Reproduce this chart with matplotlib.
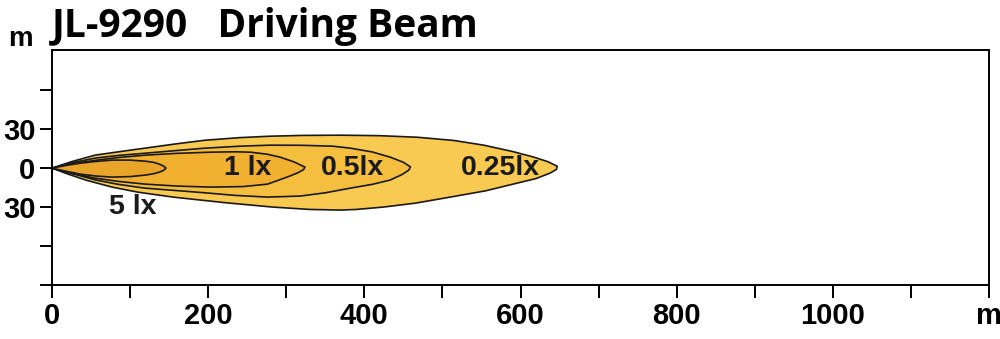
import numpy as np
import matplotlib.pyplot as plt

# odleglosc [m] i szerokosc [m]
x_025_gora = [0, 25, 55, 90, 119, 160, 196, 240, 279, 320, 369, 420, 468, 515, 553, 590, 617, 635, 647]
y_025_gora = [0, 5, 10, 13, 15.4, 18.8, 21.5, 23.5, 24.6, 25.2, 25.4, 25, 23.8, 21.3, 17.7, 12.8, 8.5, 5, 1.5]
x_025_dol = [646, 638, 620, 596, 555, 510, 465, 424, 390, 369, 330, 283, 220, 155, 110, 77, 45, 20]
y_025_dol = [-1, -3.8, -8, -11.5, -17.5, -22.3, -27, -30, -31.8, -32.3, -31.8, -30, -26.5, -22.3, -18.5, -14.6, -9.5, -4.5]

x_05_gora = [0, 25, 55, 85, 119, 160, 196, 240, 279, 320, 360, 382, 410, 433, 450, 459]
y_05_gora = [0, 4, 7.7, 9.8, 11.5, 13.6, 15.4, 16.9, 17.7, 17.6, 16.9, 15.4, 12.5, 8.5, 4.5, 1]
x_05_dol = [457, 448, 433, 410, 382, 350, 318, 276, 235, 196, 160, 119, 85, 55, 25]
y_05_dol = [-1.5, -5, -9.2, -12.5, -15.4, -19, -21.5, -22.3, -21, -19, -17.3, -15.4, -12.5, -9, -4]

x_1_gora = [0, 25, 55, 85, 119, 160, 203, 235, 254, 275, 292, 310, 324]
y_1_gora = [0, 3.2, 6, 8.2, 10, 11.4, 12.3, 12.6, 12.3, 10.8, 8.5, 4.8, 0.8]
x_1_dol = [322, 315, 305, 290, 276, 245, 203, 160, 119, 85, 55, 25]
y_1_dol = [-1.2, -3.5, -6, -9.3, -12.3, -14.2, -14.6, -13.8, -12.3, -10.2, -7.7, -4]

x_5_gora = [0, 18, 36, 57, 77, 100, 119, 130, 138, 143, 146]
y_5_gora = [0, 2.1, 3.8, 5.2, 6.2, 6.2, 5.4, 4.5, 3, 1.6, 0]
x_5_dol = [143, 138, 130, 119, 100, 77, 57, 36, 18]
y_5_dol = [-1.7, -3, -4.3, -5.4, -6.5, -6.9, -6.1, -4.6, -2.4]

etykiety = ['0.25lx', '0.5lx', '1 lx', '5 lx']
x_etykiet = [574, 385, 251, 104]
y_etykiet = [0, 0, 0, -30]
kolory = ['#F9CA52', '#F6BE3E', '#F2B030', '#E9A42A']

x_ticki = list(range(0, 1201, 100))
x_opisy = ['0', '', '200', '', '400', '', '600', '', '800', '', '1000', '', 'm']
y_ticki = [-90, -60, -30, 0, 30, 60]
y_opisy = ['', '', '30', '0', '30', '']

plt.rcParams['font.family'] = ['Liberation Sans', 'DejaVu Sans']

fig = plt.figure(figsize=(10, 3.39), dpi=100)
ax = fig.add_axes([0.052, 0.1593, 0.937, 0.6932])

kontury = [
    (x_025_gora + x_025_dol, y_025_gora + y_025_dol),
    (x_05_gora + x_05_dol, y_05_gora + y_05_dol),
    (x_1_gora + x_1_dol, y_1_gora + y_1_dol),
    (x_5_gora + x_5_dol, y_5_gora + y_5_dol),
]
for (xs, ys), kolor in zip(kontury, kolory):
    ax.fill(xs, ys, facecolor=kolor, edgecolor='#1a1a1a', linewidth=1.2, joinstyle='round')

for tekst, xe, ye in zip(etykiety, x_etykiet, y_etykiet):
    ax.text(xe, ye, tekst, ha='center', va='center', fontsize=20.5, fontweight='bold', color='#1a1a1a')

ax.set_xlim(0, 1200)
ax.set_ylim(-90, 91)
ax.set_xticks(x_ticki)
ax.set_xticklabels(x_opisy)
ax.set_yticks(y_ticki)
ax.set_yticklabels(y_opisy)
ax.tick_params(direction='out', length=9, width=1.4, labelsize=21, pad=3)
for t in ax.get_xticklabels() + ax.get_yticklabels():
    t.set_fontweight('bold')
for s in ax.spines.values():
    s.set_linewidth(1.4)

fig.text(0.052, 0.89, 'JL-9290   Driving Beam', fontsize=28, fontweight='bold',
         family=['Open Sans', 'DejaVu Sans'], ha='left', va='baseline')
fig.text(0.02, 0.865, 'm', fontsize=20, fontweight='bold', ha='center', va='baseline')

fig.savefig('out.png', dpi=100)
